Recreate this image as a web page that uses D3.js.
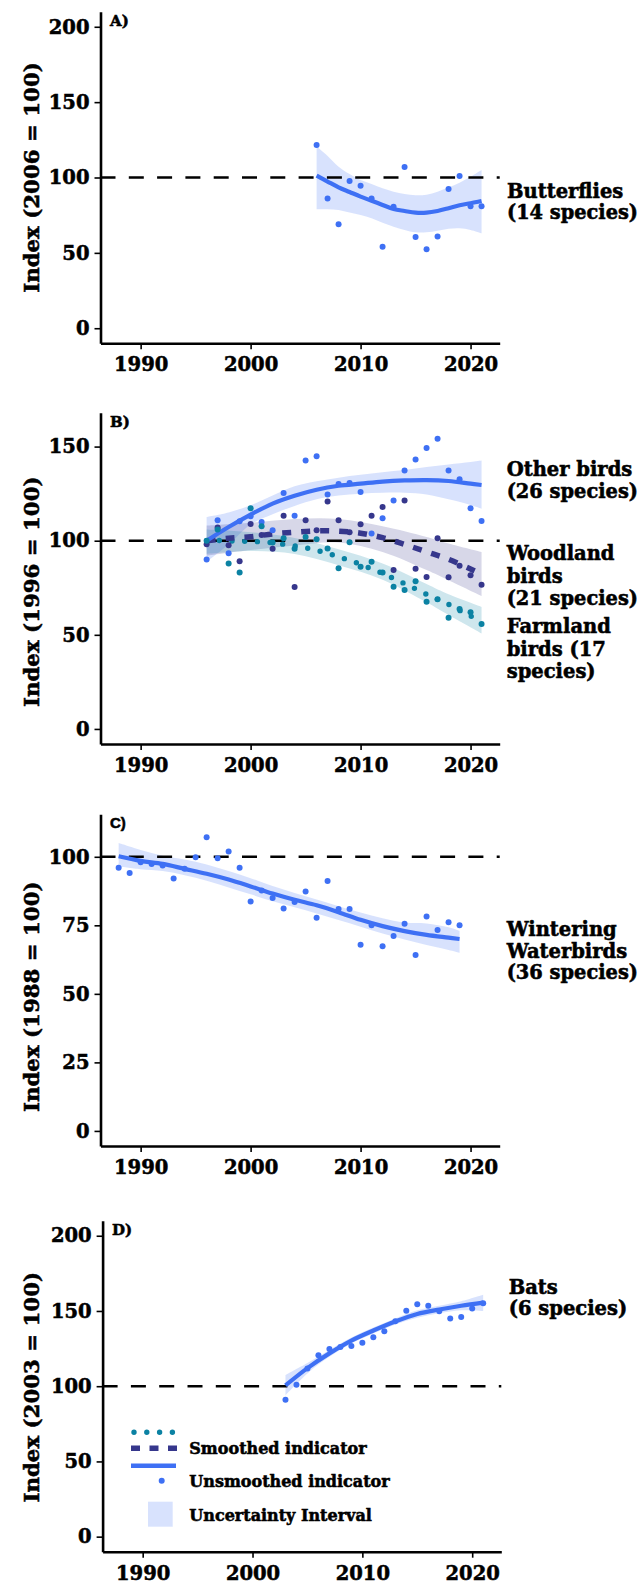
<!DOCTYPE html>
<html><head><meta charset="utf-8">
<script src="https://cdn.jsdelivr.net/npm/d3@7"></script>
<style>
body{margin:0;background:#fff}
svg{display:block}
text{font-family:"DejaVu Serif",serif;font-weight:bold;fill:#000;stroke:#000;stroke-width:0.55px}
</style>
</head><body>
<svg id="c" width="640" height="1585"></svg>
<script>
// ---------- DATA ----------
const xTicks = [1990, 2000, 2010, 2020];

// Panel A – Butterflies
const yearsA = d3.range(2006, 2022);
const butterflyIndex = [121.5, 86, 69, 97.7, 94.6, 86, 54, 80.6, 107, 60.5, 52.4, 60.8, 92.4, 101, 81, 81];
const butterflySmooth = [101.2, 97.3, 93.5, 90.4, 87.3, 84.6, 81.8, 79.1, 77.8, 76.7, 76.7, 77.8, 79.6, 81.6, 82.9, 84.4];
const butterflyUpper = [120.5, 114.3, 107.2, 102.3, 98.3, 95.7, 92.8, 90.6, 89, 88.2, 88.6, 90.6, 93.5, 96.6, 100.5, 105];
const butterflyLower = [78.9, 78.9, 78.4, 76.7, 75.1, 72.9, 70, 67.4, 65.2, 63.6, 63.6, 64.7, 66, 66.3, 65.2, 63];

// Panel B – Birds
const yearsB = d3.range(1996, 2022);
const otherBirdsIndex = [90.0, 110.9, 93.4, 110.3, 113.0, 110, 105.6, 125.3, 113.3, 142.6, 144.9, 124.6, 130.1, 130.6, 125.9, 103.8, 111.9, 121.4, 137.3, 143.2, 149.2, 154.1, 137.3, 132.6, 117.2, 110.5];
const woodlandIndex = [98.1, 107, 97.6, 89.1, 108.9, 103, 95.7, 113.2, 75.4, 110.9, 105.6, 120.8, 110.9, 104.5, 108.7, 113.2, 117.9, 84.5, 121.4, 85.1, 80.7, 101.3, 80.6, 86.7, 81.7, 76.6];
const farmlandIndex = [100, 105.9, 87.9, 83.1, 117.2, 107.7, 99, 101.3, 95.7, 102, 100.8, 95.8, 85.4, 99.2, 86.1, 88.8, 83.1, 75.5, 73.8, 78.5, 67.6, 68.9, 59.1, 63.7, 62.0, 55.8];

const knotsOther = [1996, 1998, 2000, 2002, 2004, 2006, 2008, 2010, 2012, 2014, 2016, 2018, 2020, 2021];
const otherSmooth = [100, 107.3, 113.9, 119.7, 123.9, 127.1, 129.2, 130.3, 131.4, 132, 132.2, 131.7, 130.3, 129.6];
const otherUpper = [112.6, 115, 118.8, 124, 128.9, 131.6, 133.5, 135, 136.4, 137.5, 139.1, 140.5, 141.8, 142.6];
const otherLower = [88.8, 98, 108.6, 114, 118.5, 122, 124, 125, 125.5, 125.5, 124.6, 122, 119, 117];

const knotsWood = [1996, 1998, 2000, 2002, 2004, 2006, 2008, 2010, 2012, 2014, 2016, 2018, 2020, 2021];
const woodSmooth = [100, 101.3, 102.1, 103.6, 104.5, 105.2, 105.1, 104, 101.6, 98, 94.1, 90.1, 85, 82.3];
const knotsWoodBand = [1996, 2000, 2004, 2008, 2012, 2016, 2018, 2021];
const woodUpper = [108, 109.5, 111.5, 111.5, 107.7, 102, 98.5, 94];
const woodLower = [92, 95, 97.5, 99, 94, 84.4, 79, 70.6];

const farmSmooth = [100, 100.1, 99.9, 99.7, 99.6, 99.4, 98.9, 98.1, 97.2, 96.2, 94.9, 93.3, 91.5, 89.5, 87.5, 85, 82.7, 79.9, 77.2, 74.4, 71.5, 68.8, 66.2, 63, 60, 57];
const knotsFarmBand = [1996, 2000, 2004, 2008, 2012, 2016, 2018, 2021];
const farmUpper = [106, 104.5, 101.5, 95.5, 87.9, 77, 71.5, 64.8];
const farmLower = [93, 94.5, 93, 87, 79.3, 67.3, 60.5, 50.7];

// Panel C – Wintering waterbirds
const yearsC = d3.range(1988, 2020);
const waterbirdIndex = [96.0, 94.1, 98.0, 97.4, 96.8, 92.1, 95.6, 99.8, 107.1, 99.5, 101.9, 96.0, 83.7, 87.7, 85.0, 81.1, 83.5, 87.3, 77.8, 91.2, 81.0, 81.0, 67.9, 75.0, 67.4, 71.1, 75.6, 64.2, 78.2, 73.3, 76.1, 75.0];
const knotsC = [1988, 1990, 1992, 1994, 1996, 1998, 2000, 2002, 2004, 2006, 2008, 2010, 2012, 2014, 2016, 2018, 2019];
const waterSmooth = [100.2, 98.5, 97.4, 95.6, 93.8, 91.7, 89.2, 86.6, 84.3, 82.3, 79.8, 77.0, 74.7, 72.9, 71.5, 70.5, 70.0];
const waterUpper = [105, 102.5, 100.4, 99, 97.2, 94.8, 92.2, 89.3, 86.8, 84.4, 82.0, 79.7, 77.6, 76, 75.7, 74.3, 73];
const waterLower = [96.5, 95.5, 94.8, 93.3, 91.3, 88.8, 86.3, 83.8, 81.6, 79.3, 76.9, 74.5, 72, 69.8, 67.8, 66, 65];

// Panel D – Bats
const yearsD = d3.range(2003, 2022);
const batIndex = [91.0, 100.9, 111.7, 120.5, 124.7, 126.0, 126.7, 128.9, 132.6, 136.6, 143.2, 150.2, 154.4, 153.5, 149.8, 145.0, 146.0, 151.6, 155.1];
const knotsD = [2003, 2005, 2007, 2009, 2011, 2013, 2015, 2017, 2019, 2021];
const batSmooth = [100.5, 112, 121.8, 130.3, 137, 143, 148, 151, 153.5, 155.6];
const batUpper = [107.5, 115.5, 124, 132.3, 139, 145, 150.5, 153.5, 156.5, 160.8];
const batLower = [94, 108.5, 119.5, 128.3, 135, 141, 145.5, 148.5, 150.5, 150];

const legendLabels = ["Smoothed indicator", "Unsmoothed indicator", "Uncertainty Interval"];

// ---------- STYLE ----------
const BLUE = "#3e70f4", NAVY = "#36378c", TEAL = "#0b82a3";
const svg = d3.select("#c");
const zip = (a, b) => a.map((v, i) => [v, b[i]]);
const band = (ks, up, lo) => ks.map((k, i) => ({x: k, hi: up[i], lo: lo[i]}));

function fitText(sel, maxW) {
  sel.each(function () {
    const w = this.getComputedTextLength();
    if (w > maxW) d3.select(this).attr("textLength", maxW).attr("lengthAdjust", "spacingAndGlyphs");
  });
}

function panel(cfg) {
  const g = svg.append("g");
  const x = d3.scaleLinear().domain([1986.35, 2022.65]).range([cfg.x0, cfg.x1]);
  const y = d3.scaleLinear().domain(cfg.yDomain).range([cfg.yBot, cfg.yTop]);

  cfg.bands.forEach(b => {
    g.append("path").datum(band(b.knots, b.up, b.lo))
      .attr("fill", b.color).attr("fill-opacity", 0.2)
      .attr("d", d3.area().curve(d3.curveCatmullRom).x(d => x(d.x)).y0(d => y(d.lo)).y1(d => y(d.hi)));
  });
  g.append("line").attr("x1", cfg.x0).attr("x2", cfg.x1).attr("y1", y(100)).attr("y2", y(100))
    .attr("stroke", "#000").attr("stroke-width", 2.6).attr("stroke-dasharray", "15 13.3");
  cfg.lines.forEach(l => {
    const p = g.append("path").datum(zip(l.knots, l.vals))
      .attr("fill", "none").attr("stroke", l.color)
      .attr("d", d3.line().curve(d3.curveCatmullRom).x(d => x(d[0])).y(d => y(d[1])));
    if (l.style === "solid") p.attr("stroke-width", 4.2);
    if (l.style === "dash") p.attr("stroke-width", 5.5).attr("stroke-dasharray", "9 10");
    if (l.style === "dot") p.attr("stroke-width", 5.4).attr("stroke-linecap", "round").attr("stroke-dasharray", "0 12.7");
  });
  cfg.points.forEach(s => {
    g.append("g").selectAll("circle").data(zip(s.years, s.vals)).join("circle")
      .attr("cx", d => x(d[0])).attr("cy", d => y(d[1])).attr("r", 3).attr("fill", s.color);
  });

  const ya = g.append("g").attr("transform", `translate(${cfg.x0},0)`)
    .call(d3.axisLeft(y).tickValues(cfg.yTicks).tickSize(6).tickSizeOuter(0).tickPadding(5).tickFormat(d3.format("d")));
  const xa = g.append("g").attr("transform", `translate(0,${cfg.yBot})`)
    .call(d3.axisBottom(x).tickValues(xTicks).tickSize(6).tickSizeOuter(0).tickPadding(8).tickFormat(d3.format("d")));
  [ya, xa].forEach(a => {
    a.select(".domain").attr("stroke", "#000").attr("stroke-width", 2.6);
    a.selectAll(".tick line").attr("stroke", "#000").attr("stroke-width", 1.6);
    a.selectAll(".tick text").attr("fill", "#000").style("font-family", '"DejaVu Serif",serif')
      .style("font-weight", "bold").style("font-size", "19.5px");
  });

  g.append("text").attr("x", cfg.x0 + 9.5).attr("y", cfg.letterY).style("font-size", "15px")
    .style("font-family", cfg.letterFont || '"DejaVu Serif",serif').text(cfg.letter);
  g.append("text").attr("transform", `translate(38.5,${cfg.titleCY}) rotate(-90)`)
    .attr("text-anchor", "middle").style("font-size", "21.3px").text(cfg.title);
  cfg.labels.forEach(lb => {
    lb.lines.forEach((t, i) => {
      const tx = g.append("text").attr("x", cfg.lx).attr("y", lb.y + i * lb.lh).style("font-size", "19.5px").text(t);
      fitText(tx, 638 - cfg.lx);
    });
  });
  return {x, y, g};
}

panel({
  x0: 100.5, x1: 499.7, yTop: 11.7, yBot: 343.3, yDomain: [-10, 210], yTicks: [0, 50, 100, 150, 200],
  letter: "A)", letterY: 25.5, title: "Index (2006 = 100)", titleCY: 177.5, lx: 507,
  labels: [{lines: ["Butterflies", "(14 species)"], y: 197.7, lh: 20.9}],
  bands: [{knots: yearsA, up: butterflyUpper, lo: butterflyLower, color: BLUE}],
  lines: [{knots: yearsA, vals: butterflySmooth, color: BLUE, style: "solid"}],
  points: [{years: yearsA, vals: butterflyIndex, color: BLUE}]
});

panel({
  x0: 100.5, x1: 499.7, yTop: 412.7, yBot: 744, yDomain: [-8, 168], yTicks: [0, 50, 100, 150],
  letter: "B)", letterY: 426.5, title: "Index (1996 = 100)", titleCY: 591.7, lx: 506.7,
  labels: [
    {lines: ["Other birds", "(26 species)"], y: 476, lh: 22.3},
    {lines: ["Woodland", "birds", "(21 species)"], y: 560, lh: 22.5},
    {lines: ["Farmland", "birds (17", "species)"], y: 633.3, lh: 22.5}
  ],
  bands: [
    {knots: knotsOther, up: otherUpper, lo: otherLower, color: BLUE},
    {knots: knotsWoodBand, up: woodUpper, lo: woodLower, color: NAVY},
    {knots: knotsFarmBand, up: farmUpper, lo: farmLower, color: TEAL}
  ],
  lines: [
    {knots: yearsB, vals: farmSmooth, color: TEAL, style: "dot"},
    {knots: knotsWood, vals: woodSmooth, color: NAVY, style: "dash"},
    {knots: knotsOther, vals: otherSmooth, color: BLUE, style: "solid"}
  ],
  points: [
    {years: yearsB, vals: otherBirdsIndex, color: BLUE},
    {years: yearsB, vals: woodlandIndex, color: NAVY},
    {years: yearsB, vals: farmlandIndex, color: TEAL}
  ]
});

panel({
  x0: 100.5, x1: 499.7, yTop: 814.3, yBot: 1146, yDomain: [-5.5, 115.5], yTicks: [0, 25, 50, 75, 100],
  letter: "C)", letterY: 828, letterFont: '"Liberation Sans",Arial,sans-serif',
  title: "Index (1988 = 100)", titleCY: 996.7, lx: 506.7,
  labels: [{lines: ["Wintering", "Waterbirds", "(36 species)"], y: 936, lh: 21.7}],
  bands: [{knots: knotsC, up: waterUpper, lo: waterLower, color: BLUE}],
  lines: [{knots: knotsC, vals: waterSmooth, color: BLUE, style: "solid"}],
  points: [{years: yearsC, vals: waterbirdIndex, color: BLUE}]
});

panel({
  x0: 102.6, x1: 501.3, yTop: 1220.7, yBot: 1551.7, yDomain: [-10, 210], yTicks: [0, 50, 100, 150, 200],
  letter: "D)", letterY: 1234.5, title: "Index (2003 = 100)", titleCY: 1387.2, lx: 508.7,
  labels: [{lines: ["Bats", "(6 species)"], y: 1294.3, lh: 21}],
  bands: [{knots: knotsD, up: batUpper, lo: batLower, color: BLUE}],
  lines: [{knots: knotsD, vals: batSmooth, color: BLUE, style: "solid"}],
  points: [{years: yearsD, vals: batIndex, color: BLUE}]
});

const lg = svg.append("g");
lg.append("line").attr("x1", 134).attr("x2", 173).attr("y1", 1432.3).attr("y2", 1432.3)
  .attr("stroke", TEAL).attr("stroke-width", 5.4).attr("stroke-linecap", "round").attr("stroke-dasharray", "0 12.8");
lg.append("line").attr("x1", 131).attr("x2", 177).attr("y1", 1448.3).attr("y2", 1448.3)
  .attr("stroke", NAVY).attr("stroke-width", 5.5).attr("stroke-dasharray", "9 9.5");
lg.append("line").attr("x1", 131).attr("x2", 176).attr("y1", 1465.7).attr("y2", 1465.7)
  .attr("stroke", BLUE).attr("stroke-width", 4.5);
lg.append("circle").attr("cx", 161.7).attr("cy", 1480.7).attr("r", 3).attr("fill", BLUE);
lg.append("rect").attr("x", 148).attr("y", 1501.7).attr("width", 24.7).attr("height", 25)
  .attr("fill", BLUE).attr("fill-opacity", 0.2);
[1454.3, 1487.3, 1520.7].forEach((yy, i) => {
  lg.append("text").attr("x", 189.3).attr("y", yy).style("font-size", "16px").text(legendLabels[i]);
});
</script>
</body></html>
